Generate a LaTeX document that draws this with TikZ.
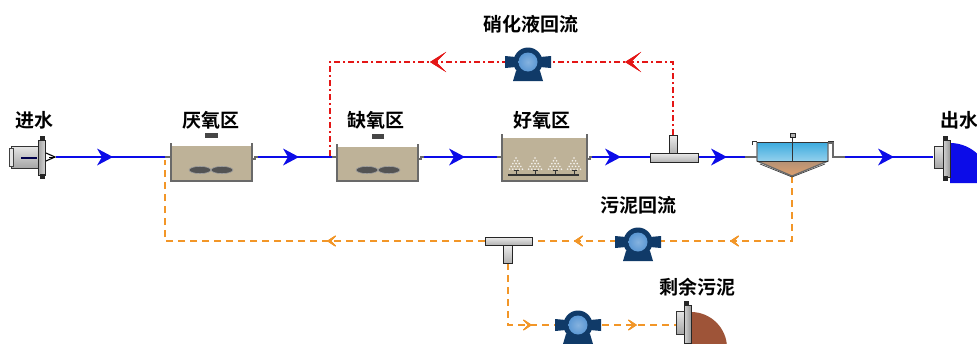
\documentclass[tikz,border=0pt]{standalone}
\usepackage{fontspec}
\newfontfamily\cjk{Noto Sans CJK SC}[BoldFont={Noto Sans CJK SC Bold}]
\usetikzlibrary{arrows.meta,decorations.markings}

\definecolor{flowblue}{RGB}{12,12,232}
\definecolor{recred}{RGB}{228,22,22}
\definecolor{sludge}{RGB}{242,150,40}
\definecolor{tankfill}{RGB}{190,178,152}
\definecolor{wallgray}{RGB}{105,105,105}
\definecolor{pumpdark}{RGB}{16,58,104}
\definecolor{pumplight}{RGB}{92,152,212}
\definecolor{outbrown}{RGB}{158,84,56}
\definecolor{clarblue}{RGB}{58,170,222}
\definecolor{clarpeach}{RGB}{222,160,110}

\tikzset{
  water/.style={flowblue, line width=2.2pt},
  nitrate/.style={recred, line width=1.9pt, dash pattern=on 6pt off 3pt on 2pt off 3pt},
  sludgeline/.style={sludge, line width=2.3pt, dash pattern=on 7pt off 5pt},
  stub/.style={wallgray, line width=1.1pt},
  wall/.style={wallgray, line width=1.3pt},
  tag/.style={font=\cjk\bfseries\fontsize{19}{19}\selectfont, inner sep=0pt},
  bluetip/.style={decoration={markings, mark=at position #1 with {\arrow{Stealth[length=16pt,width=17pt,inset=5pt,line width=0pt]}}}, postaction={decorate}},
  redtip/.style={decoration={markings, mark=at position #1 with {\arrow{Stealth[length=16pt,width=20pt,inset=10pt]}}}, postaction={decorate}},
  orangetip/.style={decoration={markings, mark=at position #1 with {\arrow{Stealth[length=13pt,width=17pt,inset=9pt]}}}, postaction={decorate}},
  metal/.style={top color=gray!15, bottom color=gray!60, draw=gray!30!black, line width=0.8pt},
  pumpicon/.pic={
    \fill[pumpdark] (-12,9) -- (12,9) -- (15,19) -- (-15,19) -- cycle;
    \fill[pumpdark] (-23,-6) -- (-12,-5) -- (-12,5) -- (-23,6) -- cycle;
    \fill[pumpdark] (23,-6) -- (12,-5) -- (12,5) -- (23,6) -- cycle;
    \fill[pumpdark] (0,0) circle (14.5);
    \shade[inner color=pumplight!75!white, outer color=pumplight] (0,0) circle (9.5);
  },
  mixer/.pic={
    \fill[gray!65!black, draw=gray!75, line width=0.6pt] (-11,0) ellipse (11 and 3.6);
    \fill[gray!65!black, draw=gray!75, line width=0.6pt] (11,0) ellipse (11 and 3.6);
  },
  bubbles/.pic={
    \foreach \r in {0,...,4}{
      \foreach \k in {0,...,\r}{
        \fill[white, opacity=0.85] ({(\k-\r/2)*3.2},{-13+\r*2.8}) circle (0.9);
      }
    }
    \draw[black!80, line width=0.9pt] (0,-1) -- (0,3);
    \draw[black!80, line width=0.9pt] (-2.5,-1) -- (2.5,-1);
  }
}

\begin{document}
\begin{tikzpicture}[x=1pt, y=-1pt]
\useasboundingbox (0,0) rectangle (977,343);
\clip (0,0) rectangle (977,343);
\fill[white] (0,0) rectangle (977,343);

% ---------- port coordinates ----------
\coordinate (inOut) at (56,157);
\coordinate (anaIn) at (165,157);
\coordinate (anaOut) at (258,157);
\coordinate (anoxIn) at (332,157);
\coordinate (anoxOut) at (424,157);
\coordinate (aerIn) at (497,157);
\coordinate (aerOut) at (592,157);
\coordinate (teeAIn) at (650,157);
\coordinate (teeAOut) at (698,157);
\coordinate (teeATop) at (673,135);
\coordinate (clarIn) at (745,157);
\coordinate (clarOut) at (845,157);
\coordinate (clarBot) at (792,176);
\coordinate (outIn) at (933,157);
\coordinate (redCorner1) at (673,62);
\coordinate (redCorner2) at (330,62);
\coordinate (redEnd) at (330,157);
\coordinate (orCorner1) at (792,241);
\coordinate (orCorner2) at (165,241);
\coordinate (orEnd) at (165,160);
\coordinate (teeBBot) at (508,263);
\coordinate (orCorner3) at (508,325);
\coordinate (wasteIn) at (676,325);

% ---------- sludge return and waste sludge (behind fittings) ----------
\draw[sludgeline, orangetip=127pt, orangetip=283pt, orangetip=530pt]
  (clarBot) -- (orCorner1) -- (orCorner2) -- (orEnd);
\draw[sludgeline, orangetip=86pt, orangetip=191pt]
  (teeBBot) -- (orCorner3) -- (wasteIn);

% ---------- nitrate recycle ----------
\draw[nitrate, redtip=121pt, redtip=316pt]
  (teeATop) -- (redCorner1) -- (redCorner2) -- (redEnd);

% ---------- main water line ----------
\draw[water, bluetip=57pt] (inOut) -- (anaIn);
\draw[water, bluetip=41pt] (anaOut) -- (anoxIn);
\draw[water, bluetip=41pt] (anoxOut) -- (aerIn);
\draw[water, bluetip=29pt] (aerOut) -- (teeAIn);
\draw[water, bluetip=29pt] (teeAOut) -- (clarIn);
\draw[water, bluetip=49pt] (clarOut) -- (outIn);

% ---------- inlet fitting ----------
\shade[top color=gray!20, bottom color=gray!70, middle color=gray!45, draw=gray!40!black, line width=0.6pt] (11,146) rectangle (38,168);
\fill[gray!20, draw=gray!50!black, line width=0.5pt] (9,148) rectangle (13,166);
\draw[blue!30!black, line width=1.2pt] (21,158) -- (37,158);
\shade[left color=gray!75, right color=gray!35, draw=gray!30!black, line width=0.6pt] (38,140) rectangle (45,175);
\fill[gray!30!black] (40,136) rectangle (45,141);
\fill[gray!30!black] (40,174) rectangle (45,179);
\draw[black, line width=1.1pt] (46,153) -- (55,157) -- (46,161);
\draw[black, line width=0.9pt] (55,157) -- (49,157);

% ---------- anaerobic tank ----------
\fill[tankfill] (171,146) rectangle (252,181);
\draw[wall] (171,143) -- (171,181) -- (252,181) -- (252,143);
\fill[gray!55!black] (205,133) rectangle (218,138);
\pic at (211,170) {mixer};
\draw[stub] (anaIn) -- (171,157);
\draw[stub] (252,159) -- (255,159) -- (255,157) -- (anaOut);
\node[tag] (labAna) at (211,120) {厌氧区};

% ---------- anoxic tank ----------
\fill[tankfill] (337,147) rectangle (418,181);
\draw[wall] (337,144) -- (337,181) -- (418,181) -- (418,144);
\fill[gray!55!black] (372,134) rectangle (384,139);
\pic at (378,170) {mixer};
\draw[stub] (anoxIn) -- (337,157);
\draw[stub] (418,159) -- (421,159) -- (421,157) -- (anoxOut);
\node[tag] (labAnox) at (376,120) {缺氧区};

% ---------- aerobic tank ----------
\fill[tankfill] (502,138) rectangle (587,181);
\draw[wall] (502,134) -- (502,181) -- (587,181) -- (587,134);
\draw[black!80, line width=1.1pt] (508,175) -- (579,175);
\foreach \dx in {516,535,555,574}{ \pic at (\dx,171) {bubbles}; }
\draw[stub] (aerIn) -- (502,157);
\draw[stub] (587,159) -- (590,159) -- (590,157) -- (aerOut);
\node[tag] (labAer) at (542,120) {好氧区};

% ---------- splitting tee ----------
\shade[metal] (669,135) rectangle (677,153);
\shade[metal] (650,153) rectangle (698,162);

% ---------- clarifier ----------
\shade[top color=clarblue, bottom color=clarblue!55!white] (757,142) rectangle (828,161);
\shade[top color=gray!45!clarpeach, bottom color=clarpeach] (757,161) -- (828,161) -- (792,176) -- cycle;
\draw[wall] (757,142) -- (757,161) -- (792,176) -- (828,161) -- (828,142);
\draw[gray!50!black, line width=0.7pt] (760,164) -- (792,177);
\draw[gray!50!black, line width=0.7pt] (825,164) -- (792,177);
\draw[gray!40!black, line width=1pt] (757,161) -- (828,161);
\draw[gray!40!black, line width=1pt] (757,142) -- (828,142);
\draw[gray!40!black, line width=0.9pt] (752,145) -- (752,141) -- (757,141);
\draw[gray!40!black, line width=0.9pt] (833,145) -- (833,141) -- (828,141);
\draw[gray!40!black, line width=1pt] (792,137) -- (792,161);
\fill[gray!60, draw=gray!30!black, line width=0.5pt] (790,133) rectangle (795,137);
\draw[stub] (clarIn) -- (757,157);
\draw[stub] (828,143) -- (833,143) -- (833,157) -- (clarOut);

% ---------- outlet fitting ----------
\fill[flowblue] (950,183) -- (950,143) arc[start angle=270, end angle=360, radius=40] -- cycle;
\shade[top color=gray!20, bottom color=gray!70, middle color=gray!45, draw=gray!40!black, line width=0.6pt] (934,146) rectangle (943,168);
\shade[left color=gray!35, right color=gray!80, draw=gray!30!black, line width=0.6pt] (943,140) rectangle (950,177);
\fill[gray!30!black] (943,136) rectangle (948,141);
\fill[gray!30!black] (943,176) rectangle (948,181);

% ---------- sludge tee ----------
\shade[metal] (503,245) rectangle (512,263);
\shade[metal] (485,237) rectangle (532,245);

% ---------- waste sludge outlet ----------
\fill[outbrown] (691,348) -- (691,312) arc[start angle=270, end angle=360, radius=36] -- cycle;
\shade[top color=gray!20, bottom color=gray!70, middle color=gray!45, draw=gray!40!black, line width=0.6pt] (676,311) rectangle (684,334);
\shade[left color=gray!35, right color=gray!80, draw=gray!30!black, line width=0.6pt] (684,305) rectangle (691,343);
\fill[gray!30!black] (684,301) rectangle (689,306);

% ---------- pumps ----------
\pic (pumpNitrate) at (528,62) {pumpicon};
\pic (pumpReturn) at (638,242) {pumpicon};
\pic (pumpWaste) at (578,325) {pumpicon};

% ---------- labels ----------
\node[tag] (labIn) at (34,120) {进水};
\node[tag] (labOut) at (959,120) {出水};
\node[tag] (labNitrate) at (531,24) {硝化液回流};
\node[tag] (labReturn) at (638,205) {污泥回流};
\node[tag] (labWaste) at (697,287) {剩余污泥};
\end{tikzpicture}
\end{document}
